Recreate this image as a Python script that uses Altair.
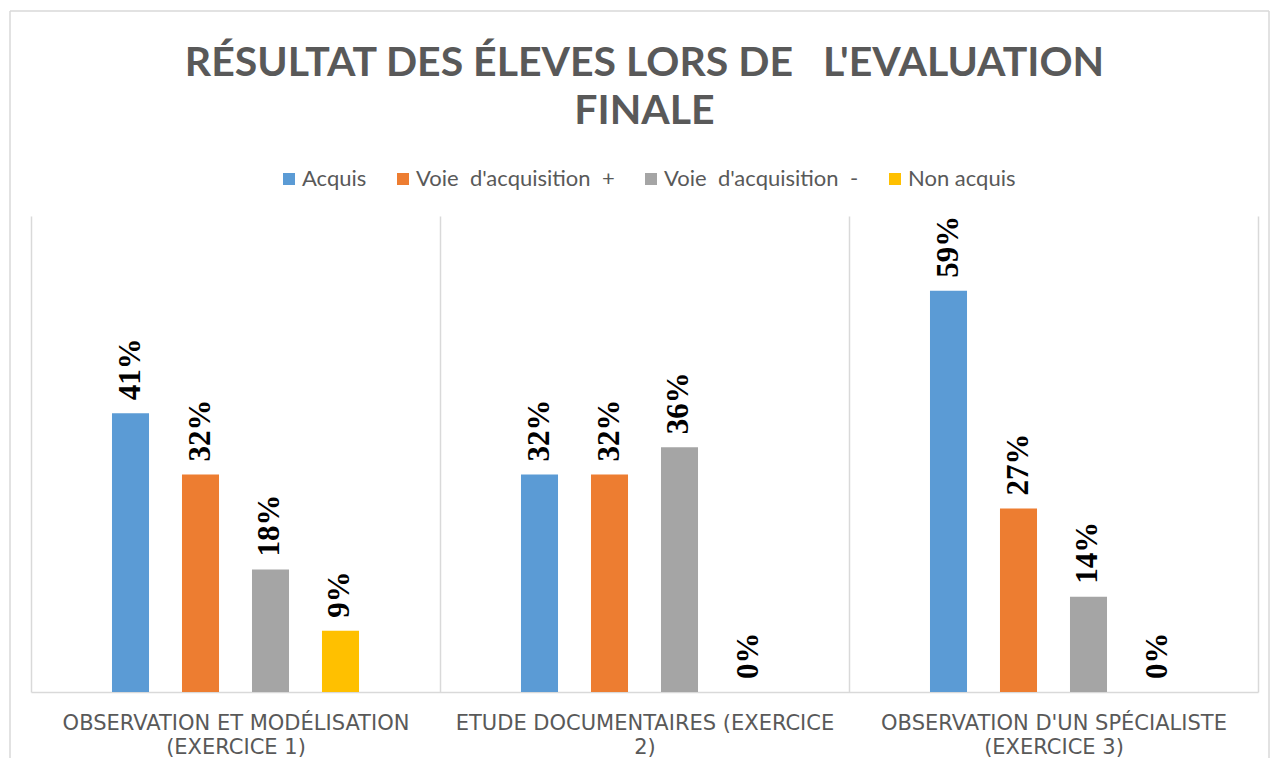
import altair as alt
import pandas as pd

# ---- data ----
categories = [
    "OBSERVATION ET MODÉLISATION\n(EXERCICE 1)",
    "ETUDE DOCUMENTAIRES (EXERCICE\n2)",
    "OBSERVATION D'UN SPÉCIALISTE\n(EXERCICE 3)",
]
NB = "\u00a0"
series = [
    "Acquis",
    "Voie" + NB * 2 + "d'acquisition" + NB * 2 + "+",
    "Voie" + NB * 2 + "d'acquisition" + NB * 2 + "-",
    "Non acquis",
]
acquis = [0.41, 0.32, 0.59]
voie_plus = [0.32, 0.32, 0.27]
voie_moins = [0.18, 0.36, 0.14]
non_acquis = [0.09, 0.00, 0.00]
colors = ["#5B9BD5", "#ED7D31", "#A5A5A5", "#FFC000"]

title_lines = ["RÉSULTAT DES ÉLEVES LORS DE" + NB * 3 + "L'EVALUATION", "FINALE"]

values_by_series = [acquis, voie_plus, voie_moins, non_acquis]
rows = []
for s, vals in zip(series, values_by_series):
    for c, v in zip(categories, vals):
        rows.append({"categorie": c, "serie": s, "valeur": v})
df = pd.DataFrame(rows)

W, H = 1227, 476
GRID = "#d9d9d9"
# empty slots at both ends of each group (spacing only, no data)
offset_domain = ["_gauche"] + series + ["_droite"]

base = alt.Chart(df).encode(
    x=alt.X(
        "categorie:N",
        sort=categories,
        scale=alt.Scale(paddingInner=0, paddingOuter=0),
        axis=alt.Axis(
            title=None,
            labelAngle=0,
            labelExpr="split(datum.label, '\\n')",
            labelFont="DejaVu Sans",
            labelFontSize=21,
            labelColor="#595959",
            labelLineHeight=24,
            labelPadding=20,
            labelLimit=0,
            ticks=False,
            grid=True,
            tickBand="extent",
            gridColor=GRID,
            gridWidth=1.5,
            domainColor=GRID,
            domainWidth=1.5,
        ),
    ),
    xOffset=alt.XOffset(
        "serie:N",
        scale=alt.Scale(domain=offset_domain, paddingInner=0.471, paddingOuter=0.157),
    ),
    y=alt.Y("valeur:Q", scale=alt.Scale(domain=[0, 0.7], nice=False), axis=None),
)

bars = base.mark_bar().encode(
    color=alt.Color(
        "serie:N",
        sort=series,
        scale=alt.Scale(domain=series, range=colors),
        legend=alt.Legend(
            orient="none",
            legendX=247,
            legendY=-48,
            direction="horizontal",
            title=None,
            symbolType="square",
            symbolSize=144,
            symbolStrokeWidth=0,
            symbolOpacity=1,
            labelFont="Lato",
            labelFontSize=22,
            labelColor="#595959",
            labelOffset=2,
            columnPadding=25,
            labelLimit=400,
        ),
    )
)

labels = base.mark_text(
    angle=270, align="left", baseline="middle", dx=13,
    font="Liberation Serif", fontWeight="bold", fontSize=31, color="black",
).encode(text=alt.Text("valeur:Q", format=".0%"))

edge = alt.Chart(pd.DataFrame({"k": [0]}))
frame_top = edge.mark_rule(color=GRID, strokeWidth=1.5).encode(
    x=alt.value(-21), x2=alt.value(W + 11), y=alt.value(-205))
frame_left = edge.mark_rule(color=GRID, strokeWidth=1.5).encode(
    x=alt.value(-21), y=alt.value(-205), y2=alt.value(H + 66))
frame_right = edge.mark_rule(color=GRID, strokeWidth=1.5).encode(
    x=alt.value(W + 11), y=alt.value(-205), y2=alt.value(H + 66))

chart = alt.layer(bars, labels, frame_top, frame_left, frame_right).properties(
    width=W,
    height=H,
    padding={"left": 1, "top": 2, "right": 0, "bottom": 0},
    title=alt.TitleParams(
        text=title_lines,
        font="Lato",
        fontSize=41,
        fontWeight="bold",
        color="#595959",
        anchor="middle",
        frame="group",
        offset=-123,
        lineHeight=48,
    ),
).configure_view(stroke=None)

chart.save("out.html", embed_options={"renderer": "svg", "actions": False})
